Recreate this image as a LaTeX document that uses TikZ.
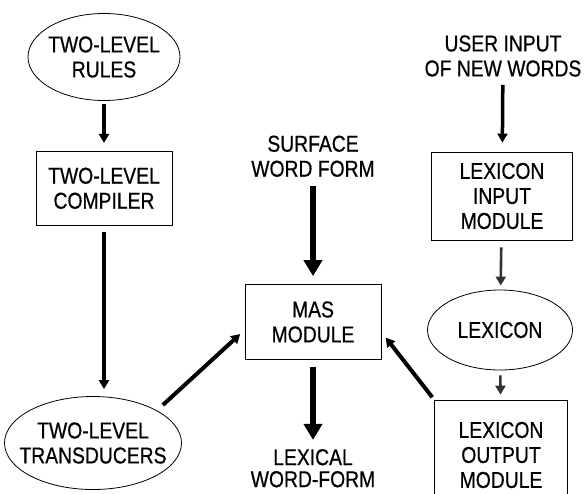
\documentclass[tikz,border=0pt]{standalone}
\usepackage{fontspec}
\setmainfont[FakeStretch=0.84, FakeBold=0.6]{Liberation Sans}
\usetikzlibrary{shapes.geometric, arrows.meta, positioning}
\tikzset{
    process/.style={
        rectangle,
        draw=black,
        line width=0.8pt,
        align=center,
        inner sep=0pt,
        font=\fontsize{23}{25}\selectfont
    },
    store/.style={
        ellipse,
        draw=black,
        line width=0.8pt,
        align=center,
        inner xsep=-15pt,
        inner ysep=0pt,
        font=\fontsize{23}{25}\selectfont
    },
    txt/.style={
        align=center,
        inner sep=0pt,
        font=\fontsize{23}{25}\selectfont
    },
    wire/.style={
        draw=black,
        line width=3.5pt,
        -{Triangle[length=9pt,width=10pt]}
    },
    bus/.style={
        draw=black,
        line width=6.5pt,
        -{Triangle[length=16pt,width=18pt]}
    },
    thinwire/.style={
        draw=black!80,
        line width=2.6pt,
        -{Triangle[length=9pt,width=10pt]}
    }
}

\begin{document}
\begin{tikzpicture}[x=1pt, y=-1pt]
\useasboundingbox (0,0) rectangle (585,493);

% Two-level rules side
\node[store, minimum width=152pt, minimum height=87pt] (rules) at (104,57) {TWO-LEVEL\\RULES};
\node[process, minimum width=136pt, minimum height=74pt, below=50pt of rules] (compiler) {TWO-LEVEL\\COMPILER};
\node[store, minimum width=177pt, minimum height=93pt] (trans) at (93,443) {TWO-LEVEL\\TRANSDUCERS};

\draw[wire, shorten <=3pt, shorten >=8pt] (rules) -- (compiler);
\draw[wire, shorten <=6pt, shorten >=7pt] (compiler) -- (compiler |- trans.north);

% Analysis module
\node[process, minimum width=136pt, minimum height=75pt] (mas) at (313,322) {MAS\\MODULE};
\node[txt, above=107pt of mas] (surface) {SURFACE\\WORD FORM};
\node[txt, font=\fontsize{23}{22}\selectfont, below=89pt of mas] (lexical) {LEXICAL\\WORD-FORM};

\draw[bus, shorten <=9pt, shorten >=8pt] (surface) -- (mas);
\draw[bus, shorten <=7pt, shorten >=9pt] (mas) -- (lexical);

% Lexicon side
\node[txt] (user) at (503,56) {USER INPUT\\OF NEW WORDS};
\node[process, minimum width=141pt, minimum height=88pt] (input) at (502,196) {LEXICON\\INPUT\\MODULE};
\node[store, minimum width=145pt, minimum height=80pt] (lexicon) at (500,330) {LEXICON};
\node[process, minimum width=133pt, minimum height=110pt] (output) at (501,455) {LEXICON\\OUTPUT\\MODULE};

\draw[wire, shorten <=8pt, shorten >=9pt] (user) -- (input);
\draw[thinwire, shorten <=7pt, shorten >=4pt] (input) -- (lexicon);
\draw[thinwire, shorten <=5pt, shorten >=5pt] (lexicon) -- (output);

% Into the MAS module
\draw[wire, line width=4pt, shorten <=8pt, shorten >=6pt] (trans.27) -- ([yshift=-8pt]mas.west);
\draw[wire, line width=4pt, shorten <=3pt, shorten >=7pt] (output.north west) -- ([yshift=-10pt]mas.east);

\end{tikzpicture}
\end{document}
